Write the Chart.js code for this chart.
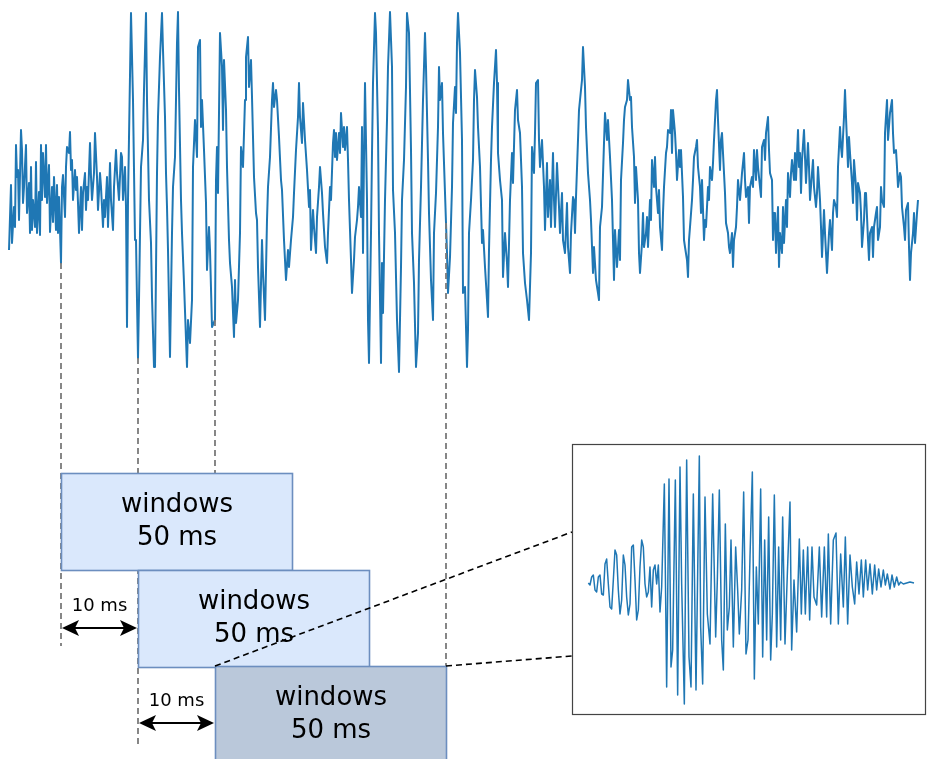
<!DOCTYPE html>
<html>
<head>
<meta charset="utf-8">
<script src="https://cdn.jsdelivr.net/npm/chart.js@4.4.1/dist/chart.umd.min.js"></script>
<style>
    body { margin: 0; background: #fff; }
    #wrap { position: relative; width: 927px; height: 759px; overflow: hidden; }
    #main { position: absolute; left: 0; top: 0; }
    #zoom { position: absolute; left: 570px; top: 440px; }
</style>
</head>
<body>
<div id="wrap">
    <canvas id="main" width="927" height="759"></canvas>
    <canvas id="zoom" width="357" height="279"></canvas>
</div>
<script>
// recording, [sample, amplitude] (7.7 samples per ms)
const mainSignal = [
    [1,-58],[3,7],[4,-51],[6,-15],[7,-35],[8,47],[9,15],[10,22],[11,-28],[13,62],[14,42],[15,-11],
    [16,5],[18,47],[19,-21],[21,9],[22,-41],[23,25],[24,-38],[25,-8],[27,-35],[28,30],[29,-41],[31,0],
    [32,-43],[33,47],[34,-8],[35,39],[37,-5],[38,47],[39,-11],[41,27],[42,-40],[44,5],[45,-30],[46,15],
    [48,-38],[49,7],[50,-41],[51,-5],[53,-71],[54,5],[55,17],[57,-25],[58,25],[59,45],[61,39],[62,60],
    [63,22],[64,32],[65,-8],[67,22],[68,2],[69,15],[70,-11],[71,-41],[73,5],[74,-38],[75,-1],[77,19],
    [78,-18],[79,5],[80,-8],[82,49],[83,15],[84,-8],[86,19],[87,59],[89,15],[90,-18],[92,19],[93,5],
    [95,-35],[96,-8],[97,-25],[99,15],[100,-35],[102,29],[103,-8],[105,-38],[106,5],[108,42],[109,19],
    [111,-8],[113,39],[114,35],[115,-8],[117,25],[118,-15],[119,-135],[120,-8],[123,179],[125,92],
    [127,-48],[128,-48],[129,-108],[130,-166],[131,-108],[133,25],[135,52],[136,102],[138,179],[139,92],
    [141,-8],[143,-51],[144,-105],[146,-175],[147,-175],[149,19],[150,75],[152,135],[154,179],[155,142],
    [157,75],[158,19],[159,-15],[160,-58],[162,-165],[164,-41],[165,5],[167,35],[169,149],[170,180],
    [171,102],[173,-8],[174,-41],[176,-91],[179,-175],[180,-128],[182,-151],[184,-108],[185,25],[187,72],
    [189,35],[190,145],[192,152],[193,65],[194,92],[196,42],[198,-11],[199,-78],[201,-35],[202,-58],
    [204,-135],[207,-128],[208,12],[209,45],[210,-1],[212,159],[214,125],[215,62],[216,132],[218,82],
    [219,25],[221,-48],[222,-71],[224,-95],[226,-145],[227,-88],[228,-131],[230,-108],[232,-41],[233,45],
    [235,25],[237,92],[238,135],[240,155],[241,105],[243,132],[244,95],[246,15],[248,-21],[249,-28],
    [250,-75],[252,-135],[254,-48],[255,-81],[257,-128],[259,-28],[260,5],[262,35],[264,92],[265,109],
    [266,85],[268,102],[269,92],[271,55],[273,12],[274,2],[276,-48],[278,-88],[280,-58],[281,-75],
    [283,-48],[285,-25],[286,-1],[288,42],[290,75],[291,109],[292,75],[294,49],[295,89],[297,52],[299,22],
    [301,-15],[302,2],[303,-58],[305,-18],[306,-35],[308,-61],[309,-25],[311,5],[312,25],[314,-1],
    [315,-21],[317,-55],[319,-71],[320,-41],[322,5],[323,-8],[325,49],[326,62],[327,35],[328,59],[329,32],
    [331,59],[332,39],[333,79],[335,45],[336,65],[337,42],[339,65],[340,32],[341,-8],[343,-68],[344,-101],
    [346,-68],[347,-45],[349,-28],[350,-15],[351,5],[353,-25],[354,65],[355,-61],[356,35],[357,109],
    [359,-8],[360,-128],[361,-171],[363,-41],[364,39],[365,109],[367,179],[368,159],[370,59],[371,-41],
    [373,-171],[374,-71],[375,-121],[377,-8],[379,72],[380,125],[382,180],[384,125],[385,2],[387,-41],
    [389,-128],[391,-180],[393,-75],[394,-8],[396,32],[398,105],[399,179],[401,159],[403,42],[404,-41],
    [406,-91],[408,-175],[410,-141],[411,-68],[413,5],[415,92],[417,159],[418,125],[420,32],[421,-21],
    [423,-88],[425,-128],[426,-41],[428,-1],[430,65],[431,125],[432,92],[434,109],[435,59],[437,-1],
    [439,-61],[440,-101],[442,-65],[444,5],[445,69],[447,105],[448,79],[449,149],[450,179],[452,139],
    [454,52],[455,-101],[457,-95],[459,-175],[460,-138],[461,-41],[463,-8],[465,32],[466,92],[467,122],
    [469,95],[470,65],[472,25],[474,-51],[475,-38],[477,-75],[479,-108],[480,-125],[481,-58],[483,32],
    [484,65],[486,109],[488,142],[489,109],[490,39],[492,12],[494,-8],[495,-85],[497,-41],[499,-71],
    [500,-95],[502,-8],[504,39],[505,9],[507,82],[509,102],[510,72],[512,59],[514,5],[515,-61],[517,-91],
    [519,-108],[521,-128],[523,-61],[524,45],[526,19],[527,59],[528,109],[530,112],[531,52],[532,25],
    [534,52],[536,5],[537,-38],[539,29],[540,-25],[542,12],[543,-35],[545,39],[546,-8],[547,-35],[549,29],
    [551,-15],[552,-41],[554,-1],[555,-48],[557,-61],[559,-11],[560,-55],[562,-81],[563,-41],[565,-5],
    [566,-8],[567,-41],[568,-5],[570,52],[571,82],[573,102],[574,112],[575,145],[577,105],[578,65],
    [580,19],[582,-8],[583,-28],[585,-81],[586,-55],[588,-88],[590,-101],[591,-108],[592,-35],[594,-15],
    [596,49],[597,79],[599,52],[600,72],[602,35],[604,-8],[606,-88],[607,-38],[609,-75],[611,-38],
    [612,-68],[613,12],[615,49],[616,72],[617,85],[619,92],[620,112],[622,92],[623,95],[624,65],[626,35],
    [627,-11],[628,25],[630,-8],[631,-61],[632,-81],[634,-51],[635,-21],[636,-55],[638,-41],[639,-25],
    [640,-55],[642,-8],[643,-28],[644,32],[646,5],[647,35],[648,5],[650,-21],[651,2],[652,-35],[654,-58],
    [655,-21],[656,5],[658,39],[659,45],[660,62],[662,59],[663,82],[664,39],[665,82],[667,59],[668,39],
    [669,12],[671,42],[672,25],[673,42],[675,-5],[676,-48],[677,-55],[679,-68],[680,-85],[681,-48],
    [682,-35],[684,-8],[685,12],[686,35],[688,45],[689,52],[690,25],[692,5],[693,-21],[694,12],[696,-48],
    [697,-28],[698,-35],[700,5],[701,-8],[702,25],[704,12],[705,29],[706,52],[708,92],[709,102],[710,72],
    [712,22],[713,52],[714,59],[716,19],[717,-1],[718,-31],[720,-41],[721,-55],[722,-61],[724,-41],
    [725,-75],[726,-48],[728,-35],[729,-15],[730,12],[732,-8],[733,5],[734,19],[736,39],[737,12],[738,-5],
    [740,5],[741,-31],[742,5],[744,15],[745,5],[746,42],[748,12],[749,42],[750,25],[752,5],[753,-5],
    [754,45],[756,52],[757,32],[758,59],[760,75],[761,42],[762,19],[764,12],[765,-48],[766,-21],[767,-21],
    [768,-61],[770,-15],[771,-75],[772,-41],[774,-61],[775,-15],[776,-51],[778,-8],[779,-35],[780,19],
    [782,-5],[783,19],[784,32],[786,12],[787,39],[788,12],[790,62],[791,25],[792,39],[793,-1],[794,32],
    [796,62],[797,35],[798,9],[800,49],[801,25],[802,-8],[804,19],[805,32],[806,5],[808,-15],[809,-1],
    [810,25],[812,-8],[813,-35],[814,-65],[816,-18],[817,-41],[818,-61],[819,-81],[821,-41],[822,-28],
    [824,-58],[825,-21],[826,-8],[828,-15],[829,-25],[830,25],[832,65],[833,45],[834,35],[836,75],
    [837,102],[838,75],[840,25],[841,55],[842,39],[844,9],[845,-11],[846,32],[848,5],[849,-28],[850,9],
    [852,-1],[853,-21],[854,-55],[856,-28],[857,-1],[858,-1],[860,-48],[861,-68],[862,-41],[864,-35],
    [865,-65],[866,-35],[868,-21],[869,-15],[870,-48],[872,-35],[873,5],[874,-8],[876,-15],[877,59],
    [879,92],[880,52],[882,79],[884,92],[885,59],[886,39],[888,42],[889,25],[890,5],[892,19],[893,15],
    [894,-15],[896,-35],[897,-48],[898,-18],[900,-11],[901,-55],[902,-88],[903,-61],[905,-41],[906,-21],
    [907,-51],[909,-21],[910,-8]
];

// the selected window, zoomed in
const zoomSignal = [
    [55,0],[60,-2],[65,6],[70,8],[75,-7],[80,-9],[85,6],[90,8],[95,-11],[100,-12],[105,19],[110,24],
    [115,-1],[120,-24],[125,-26],[130,3],[135,33],[140,28],[145,-7],[150,-31],[155,-17],[160,28],[165,18],
    [170,-14],[175,-32],[180,-21],[185,36],[190,38],[195,3],[200,-37],[205,-27],[210,16],[215,43],[220,36],
    [225,-1],[230,-14],[235,-9],[240,16],[245,-24],[250,13],[255,18],[260,-1],[265,18],[270,-29],[275,-4],
    [283,99],[290,-104],[297,104],[303,-84],[308,-67],[316,103],[323,-112],[330,116],[335,-1],[343,-121],
    [350,123],[357,-74],[363,-104],[370,89],[378,-107],[388,127],[392,-44],[398,-101],[405,86],[412,-31],
    [420,-61],[428,89],[437,-54],[442,3],[448,93],[455,-57],[460,-87],[466,59],[472,-47],[478,-24],
    [483,43],[490,-64],[497,36],[503,-7],[508,-51],[515,-7],[521,91],[528,-71],[534,-57],[540,26],
    [547,111],[553,-96],[559,16],[565,-41],[572,94],[578,-74],[584,43],[590,-57],[596,66],[602,-77],
    [607,-31],[613,88],[620,-64],[626,36],[632,-57],[638,66],[645,-61],[652,9],[660,81],[665,-67],
    [672,3],[680,-49],[688,44],[694,-31],[700,33],[706,-31],[713,36],[719,-37],[726,36],[732,-14],
    [740,-22],[748,36],[755,-34],[763,36],[770,-34],[775,49],[782,-41],[790,43],[798,50],[805,-41],
    [812,29],[820,-24],[826,46],[833,-41],[840,28],[847,-4],[854,-21],[860,21],[867,-11],[874,23],
    [880,-14],[887,23],[893,-7],[900,19],[907,-11],[914,18],[920,-7],[926,14],[933,-4],[940,13],
    [946,-2],[952,9],[960,-6],[966,8],[973,-4],[980,6],[986,-2],[992,1],[1000,-1],[1010,0],[1020,1],
    [1032,0]
];

const windowStarts = [53, 130, 207];
const windowLength = 231;
const windowText = ["windows", "50 ms"];
const hopText = "10 ms";

const FONT = "DejaVu Sans";

function signalAt(t) {
    for (let i = 1; i < mainSignal.length; i++) {
        const [t0, a0] = mainSignal[i - 1];
        const [t1, a1] = mainSignal[i];
        if (t >= t0 && t <= t1) {
            return t1 === t0 ? a1 : a0 + ((a1 - a0) * (t - t0)) / (t1 - t0);
        }
    }
    return 0;
}

function segment(ctx, x1, y1, x2, y2) {
    ctx.beginPath();
    ctx.moveTo(x1, y1);
    ctx.lineTo(x2, y2);
    ctx.stroke();
}

function arrowHead(ctx, tipX, y, dir) {
    const head = 17;
    const half = 8;
    ctx.beginPath();
    ctx.moveTo(tipX, y);
    ctx.lineTo(tipX + dir * head, y - half);
    ctx.lineTo(tipX + dir * (head - 4), y);
    ctx.lineTo(tipX + dir * head, y + half);
    ctx.closePath();
    ctx.fill();
}

function doubleArrow(ctx, x1, x2, y) {
    ctx.lineWidth = 2.2;
    segment(ctx, x1 + 10, y, x2 - 10, y);
    arrowHead(ctx, x1 + 1, y, 1);
    arrowHead(ctx, x2 - 1, y, -1);
}

// boxes, guides and arrows under the waveform
const windowDiagram = {
    id: "windowDiagram",
    afterDraw(chart) {
        const ctx = chart.ctx;
        const xs = chart.scales.x;
        const ys = chart.scales.y;
        const lastEnd = windowStarts[windowStarts.length - 1] + windowLength;
        const marks = [...windowStarts, lastEnd];
        const guideBottoms = [646, 744, 666, 666];
        const boxTops = [473, 570, 666];
        const boxFills = ["#dae8fc", "#dae8fc", "#bac8da"];

        ctx.save();
        ctx.strokeStyle = "#7a7a7a";
        ctx.lineWidth = 1.8;
        ctx.setLineDash([6, 4]);
        marks.forEach((m, i) => {
            const x = Math.round(xs.getPixelForValue(m));
            segment(ctx, x, ys.getPixelForValue(signalAt(m)), x, guideBottoms[i]);
        });
        ctx.setLineDash([]);

        windowStarts.forEach((start, i) => {
            const left = Math.round(xs.getPixelForValue(start)) + 0.5;
            const right = Math.round(xs.getPixelForValue(start + windowLength)) + 0.5;
            const top = boxTops[i] + 0.5;
            ctx.fillStyle = boxFills[i];
            ctx.strokeStyle = "#6c8ebf";
            ctx.lineWidth = 1.6;
            ctx.fillRect(left, top, right - left, 97);
            ctx.strokeRect(left, top, right - left, 97);
            ctx.fillStyle = "#000";
            ctx.font = `26px "${FONT}"`;
            ctx.textAlign = "center";
            ctx.textBaseline = "middle";
            ctx.fillText(windowText[0], (left + right) / 2, top + 32);
            ctx.fillText(windowText[1], (left + right) / 2, top + 65);
        });

        // leaders to the zoomed view
        const zoomLeft = 572;
        ctx.strokeStyle = "#000";
        ctx.lineWidth = 1.6;
        ctx.setLineDash([6, 4]);
        segment(ctx, xs.getPixelForValue(windowStarts[2]), boxTops[2], zoomLeft, 532);
        segment(ctx, xs.getPixelForValue(lastEnd), boxTops[2], zoomLeft, 656);
        ctx.setLineDash([]);

        // 10 ms hops
        ctx.fillStyle = "#000";
        ctx.strokeStyle = "#000";
        ctx.font = `18px "${FONT}"`;
        ctx.textAlign = "center";
        ctx.textBaseline = "middle";
        const hopRows = [628, 723];
        for (let i = 0; i < 2; i++) {
            const x1 = xs.getPixelForValue(windowStarts[i]);
            const x2 = xs.getPixelForValue(windowStarts[i + 1]);
            doubleArrow(ctx, x1, x2, hopRows[i]);
            ctx.fillText(hopText, (x1 + x2) / 2, hopRows[i] - 22);
        }
        ctx.restore();
    },
};

const frame = {
    id: "frame",
    afterDraw(chart) {
        const { ctx, chartArea } = chart;
        ctx.save();
        ctx.strokeStyle = "#444";
        ctx.lineWidth = 1.2;
        ctx.strokeRect(
            chartArea.left + 0.5,
            chartArea.top + 0.5,
            chartArea.right - chartArea.left - 1,
            chartArea.bottom - chartArea.top - 1
        );
        ctx.restore();
    },
};

function lineConfig(points, xMin, xMax, yMin, yMax, width, padding, plugins) {
    return {
        type: "line",
        data: {
            datasets: [
                {
                    data: points.map(([x, y]) => ({ x, y })),
                    borderColor: "#1f77b4",
                    borderWidth: width,
                    borderJoinStyle: "round",
                    pointRadius: 0,
                    tension: 0,
                    fill: false,
                },
            ],
        },
        options: {
            responsive: false,
            animation: false,
            layout: { padding },
            plugins: { legend: { display: false }, tooltip: { enabled: false } },
            scales: {
                x: { type: "linear", min: xMin, max: xMax, display: false },
                y: { min: yMin, max: yMax, display: false },
            },
        },
        plugins,
    };
}

new Chart(
    document.getElementById("main"),
    lineConfig(mainSignal, 0, 912, -182, 182, 2,
        { left: 8, right: 7, top: 10, bottom: 385 }, [windowDiagram])
);

new Chart(
    document.getElementById("zoom"),
    lineConfig(zoomSignal, 6, 1068, -132, 139, 1.5,
        { left: 2, right: 1, top: 4, bottom: 4 }, [frame])
);
</script>
</body>
</html>
